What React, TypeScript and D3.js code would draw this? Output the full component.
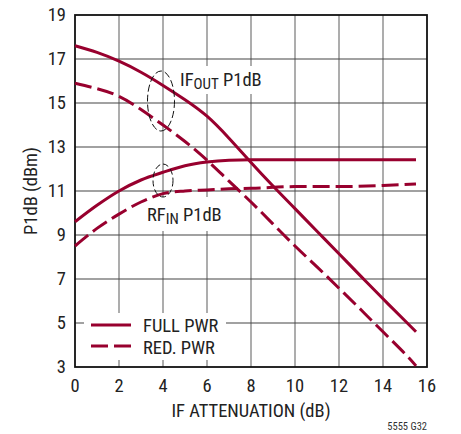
import React from "react";
import * as d3 from "d3";

const xTicks = [0, 2, 4, 6, 8, 10, 12, 14, 16];
const yTicks = [3, 5, 7, 9, 11, 13, 15, 17, 19];

const ifOutFullX = [0, 1, 2, 3, 4, 5, 6, 7, 8, 9, 10, 11, 12, 13, 14, 15, 15.5];
const ifOutFullY = [17.6, 17.3, 16.9, 16.4, 15.8, 15.15, 14.4, 13.4, 12.3, 11.23, 10.2, 9.17, 8.15, 7.12, 6.1, 5.1, 4.6];

const ifOutRedX = [0, 1, 2, 3, 4, 5, 6, 7, 8, 9, 10, 11, 12, 13, 14, 15, 15.5];
const ifOutRedY = [15.9, 15.65, 15.3, 14.7, 14.0, 13.25, 12.4, 11.45, 10.5, 9.5, 8.5, 7.55, 6.58, 5.6, 4.6, 3.6, 3.05];

const rfInFullX = [0, 1, 2, 3, 4, 5, 6, 7, 8, 10, 12, 14, 15.5];
const rfInFullY = [9.6, 10.35, 11.0, 11.5, 11.85, 12.15, 12.32, 12.4, 12.42, 12.42, 12.42, 12.42, 12.42];

const rfInRedX = [0, 1, 2, 3, 4, 5, 6, 7, 8, 10, 12, 14, 15.5];
const rfInRedY = [8.5, 9.3, 9.95, 10.5, 10.88, 11.0, 11.05, 11.1, 11.12, 11.2, 11.2, 11.25, 11.32];

const legendLabels = ["FULL PWR", "RED. PWR"];

const W = 461;
const H = 434;
const left = 75;
const right = 427;
const top = 15;
const bottom = 367;
const RED = "#98002e";
const FONT = "'Liberation Sans Narrow', 'Roboto Condensed', 'DejaVu Sans Condensed', 'Liberation Sans', sans-serif";

export default function App() {
  const x = d3.scaleLinear().domain([0, 16]).range([left, right]);
  const y = d3.scaleLinear().domain([3, 19]).range([bottom, top]);
  const smooth = d3
    .line<[number, number]>()
    .x((d) => x(d[0]))
    .y((d) => y(d[1]))
    .curve(d3.curveNatural);
  const mono = d3
    .line<[number, number]>()
    .x((d) => x(d[0]))
    .y((d) => y(d[1]))
    .curve(d3.curveMonotoneX);
  const zip = (a: number[], b: number[]) => a.map((v, i) => [v, b[i]] as [number, number]);

  const series = [
    { d: smooth(zip(ifOutFullX, ifOutFullY)), dash: null },
    { d: smooth(zip(ifOutRedX, ifOutRedY)), dash: "17,6" },
    { d: mono(zip(rfInFullX, rfInFullY)), dash: null },
    { d: mono(zip(rfInRedX, rfInRedY)), dash: "17,6" },
  ];

  return (
    <svg
      width={W}
      height={H}
      style={{ position: "absolute", left: 0, top: 0, background: "#fff" }}
      fontFamily={FONT}
    >
      {xTicks.slice(1, -1).map((t) => (
        <line key={"vx" + t} x1={x(t)} x2={x(t)} y1={top} y2={bottom} stroke="#999" strokeWidth={1.6} />
      ))}
      {yTicks.slice(1, -1).map((t) => (
        <line key={"hy" + t} x1={left} x2={right} y1={y(t)} y2={y(t)} stroke="#444" strokeWidth={1.1} />
      ))}
      <rect x={178} y={66} width={89} height={28} fill="#fff" />
      <rect x={144} y={197} width={82} height={34} fill="#fff" />
      <rect x={84} y={313} width={142} height={47} fill="#fff" />

      <rect x={left} y={top} width={right - left} height={bottom - top} fill="none" stroke="#111" strokeWidth={1.8} />

      {series.map((s, i) => (
        <path
          key={i}
          d={s.d || ""}
          fill="none"
          stroke={RED}
          strokeWidth={3}
          strokeDasharray={s.dash || undefined}
        />
      ))}

      <ellipse cx={161} cy={101} rx={13.5} ry={30} fill="none" stroke="#111" strokeWidth={1} strokeDasharray="7,3" />
      <ellipse cx={163} cy={180.5} rx={10} ry={16.5} fill="none" stroke="#111" strokeWidth={1} strokeDasharray="6,3" />

      <text x={180} y={86} fontSize={18.5} fill="#222">
        IF
        <tspan fontSize={15} dy={3}>OUT</tspan>
        <tspan dy={-3}> P1dB</tspan>
      </text>
      <text x={147} y={221} fontSize={18.5} fill="#222">
        RF
        <tspan fontSize={15} dy={3}>IN</tspan>
        <tspan dy={-3}> P1dB</tspan>
      </text>

      <line x1={91} x2={131} y1={325} y2={325} stroke={RED} strokeWidth={3} />
      <line x1={91} x2={131} y1={346} y2={346} stroke={RED} strokeWidth={3} strokeDasharray="17,6" />
      <text x={143} y={332} fontSize={18.5} fill="#222">{legendLabels[0]}</text>
      <text x={143} y={354} fontSize={18.5} fill="#222">{legendLabels[1]}</text>

      {yTicks.map((t) => (
        <text key={"yl" + t} x={66} y={y(t)} dy="0.35em" textAnchor="end" fontSize={18.5} fill="#222">
          {t}
        </text>
      ))}
      {xTicks.map((t) => (
        <text key={"xl" + t} x={x(t)} y={392} textAnchor="middle" fontSize={18.5} fill="#222">
          {t}
        </text>
      ))}

      <text x={251} y={417} textAnchor="middle" fontSize={18.5} fill="#222">
        IF ATTENUATION (dB)
      </text>
      <text
        transform={`translate(37, ${(top + bottom) / 2}) rotate(-90)`}
        textAnchor="middle"
        fontSize={18.5}
        fill="#222"
      >
        P1dB (dBm)
      </text>
      <text x={427} y={430} textAnchor="end" fontSize={10.5} fill="#333">
        5555 G32
      </text>
    </svg>
  );
}
